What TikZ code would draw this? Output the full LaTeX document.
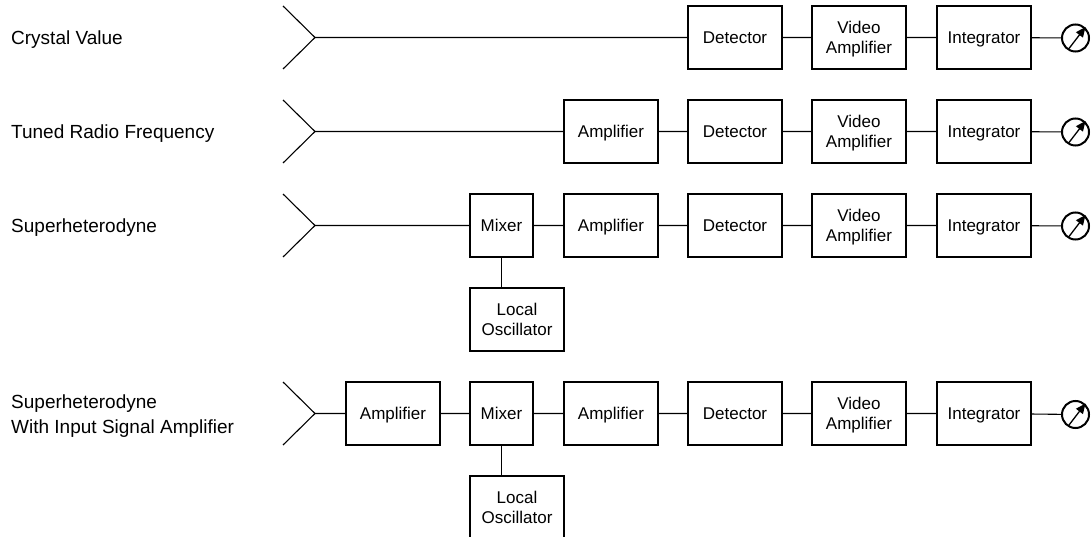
\documentclass[tikz,border=0pt]{standalone}
\usepackage{fontspec}
\setmainfont{Liberation Sans}
\usetikzlibrary{arrows.meta,calc}
\newcommand{\nodep}[1]{\raisebox{0pt}[\height][0pt]{#1}}
\begin{document}
\begin{tikzpicture}[x=1pt,y=-1pt,
  blkbase/.style={draw, line width=1.1pt, minimum width=94pt, minimum height=63pt, inner sep=0pt, align=center, font=\fontsize{17}{20}\selectfont},
  blk/.style={blkbase, text height=16pt, text depth=3.8pt},
  blktwo/.style={blkbase},
  mix/.style={blk, minimum width=63pt},
  lbl/.style={anchor=base west, align=left, inner sep=0pt, font=\fontsize{19}{24}\selectfont},
  lbltwo/.style={anchor=west, align=left, inner sep=0pt, font=\fontsize{19}{25}\selectfont},
  wire/.style={line width=1.1pt},
  meter/.style={circle, draw, line width=2pt, minimum size=27pt, inner sep=0pt},
  needle/.style={line width=1.3pt, -{Triangle[length=10pt,width=8.5pt]}}]
\useasboundingbox (0,0) rectangle (1091,537);

% ---------- Row 1 : Crystal Value ----------
\node[lbl] (l1) at (11,44.3) {Crystal Value};
\coordinate (a1) at (315,37.5);
\draw[wire] (283,6) -- (a1) -- (283,69);
\node[blk] (det1) at (735,37.5) {Detector};
\node[blktwo] (vid1) at (859,37.5) {Video\\\nodep{Amplifier}};
\node[blk] (int1) at (984,37.5) {Integrator};
\node[meter] (m1) at (1075.5,38) {};
\draw[wire] (a1) -- (det1) (det1) -- (vid1) (vid1) -- (int1) (int1) -- (m1);
\draw[needle] ($(m1)+(-6.5,10.5)$) -- ($(m1)+(10,-11)$);

% ---------- Row 2 : Tuned Radio Frequency ----------
\node[lbl] (l2) at (11,138.3) {Tuned Radio Frequency};
\coordinate (a2) at (315,131.5);
\draw[wire] (283,100) -- (a2) -- (283,163);
\node[blk] (amp2) at (611,131.5) {Amplifier};
\node[blk] (det2) at (735,131.5) {Detector};
\node[blktwo] (vid2) at (859,131.5) {Video\\\nodep{Amplifier}};
\node[blk] (int2) at (984,131.5) {Integrator};
\node[meter] (m2) at (1075.5,132) {};
\draw[wire] (a2) -- (amp2) (amp2) -- (det2) (det2) -- (vid2) (vid2) -- (int2) (int2) -- (m2);
\draw[needle] ($(m2)+(-6.5,10.5)$) -- ($(m2)+(10,-11)$);

% ---------- Row 3 : Superheterodyne ----------
\node[lbl] (l3) at (11,232.3) {Superheterodyne};
\coordinate (a3) at (315,225.5);
\draw[wire] (283,194) -- (a3) -- (283,257);
\node[mix] (mix3) at (501.5,225.5) {Mixer};
\node[blk] (amp3) at (611,225.5) {Amplifier};
\node[blk] (det3) at (735,225.5) {Detector};
\node[blktwo] (vid3) at (859,225.5) {Video\\\nodep{Amplifier}};
\node[blk] (int3) at (984,225.5) {Integrator};
\node[meter] (m3) at (1075.5,226) {};
\node[blktwo] (lo3) at (517,319.5) {Local\\Oscillator};
\draw[wire] (a3) -- (mix3) (mix3) -- (amp3) (amp3) -- (det3) (det3) -- (vid3) (vid3) -- (int3) (int3) -- (m3);
\draw[wire] (mix3.south) -- (mix3.south |- lo3.north);
\draw[needle] ($(m3)+(-6.5,10.5)$) -- ($(m3)+(10,-11)$);

% ---------- Row 4 : Superheterodyne with input amplifier ----------
\node[lbltwo] (l4) at (11,416.5) {Superheterodyne\\With Input Signal Amplifier};
\coordinate (a4) at (315,413.5);
\draw[wire] (283,382) -- (a4) -- (283,445);
\node[blk] (amp4a) at (393,413.5) {Amplifier};
\node[mix] (mix4) at (501.5,413.5) {Mixer};
\node[blk] (amp4) at (611,413.5) {Amplifier};
\node[blk] (det4) at (735,413.5) {Detector};
\node[blktwo] (vid4) at (859,413.5) {Video\\\nodep{Amplifier}};
\node[blk] (int4) at (984,413.5) {Integrator};
\node[meter] (m4) at (1075.5,414.5) {};
\node[blktwo] (lo4) at (517,507.5) {Local\\Oscillator};
\draw[wire] (a4) -- (amp4a) (amp4a) -- (mix4) (mix4) -- (amp4) (amp4) -- (det4) (det4) -- (vid4) (vid4) -- (int4) (int4) -- (m4);
\draw[wire] (mix4.south) -- (mix4.south |- lo4.north);
\draw[needle] ($(m4)+(-6.5,10.5)$) -- ($(m4)+(10,-11)$);
\end{tikzpicture}
\end{document}
